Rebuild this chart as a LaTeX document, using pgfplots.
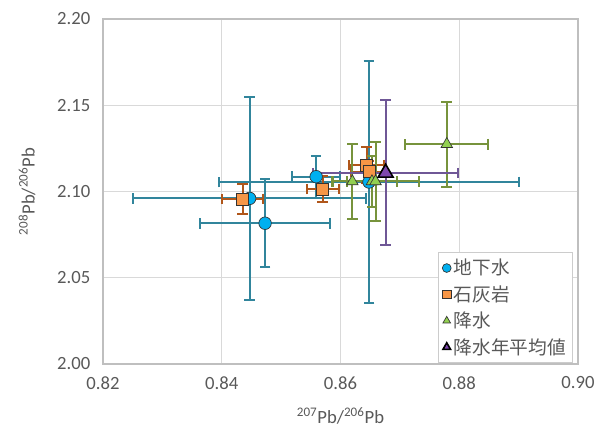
\documentclass[border=0pt]{standalone}
\usepackage{fontspec}
\setmainfont{Carlito}
\newfontfamily\cjk{Noto Sans CJK JP}
\usepackage{pgfplots}
\pgfplotsset{compat=1.18}
\usetikzlibrary{calc}

\definecolor{gwfill}{HTML}{00B0F0}
\definecolor{gwbar}{HTML}{31859C}
\definecolor{lsfill}{HTML}{F79646}
\definecolor{lsbar}{HTML}{B0561A}
\definecolor{prfill}{HTML}{92D050}
\definecolor{prbar}{HTML}{77933C}
\definecolor{pmfill}{HTML}{7E47AE}
\definecolor{pmbar}{HTML}{6F5796}
\definecolor{txt}{HTML}{595959}

% x  y  ex  ey
\pgfplotstableread{
x      y      ex     ey
0.8447 2.0960 0.0196 0.0589
0.8473 2.0816 0.0109 0.0255
0.8559 2.1086 0.0041 0.0122
0.8648 2.1055 0.0252 0.0700
}\groundwater
\pgfplotstableread{
x      y      ex     ey
0.8435 2.0957 0.0035 0.0089
0.8570 2.1014 0.0027 0.0077
0.8644 2.1154 0.0030 0.0103
0.8648 2.1115 0.0030 0.0060
}\limestone
\pgfplotstableread{
x      y      ex     ey
0.8620 2.1058 0.0033 0.0215
0.8653 2.1058 0.0042 0.0145
0.8659 2.1058 0.0073 0.0230
0.8779 2.1274 0.0070 0.0246
}\precip
\pgfplotstableread{
x      y      ex     ey
0.8676 2.1108 0.0122 0.0420
}\precipmean

\begin{document}
\begin{tikzpicture}
\begin{axis}[
    scale only axis,
    width=356.25pt, height=258.75pt,
    xmin=0.82, xmax=0.90, ymin=2.00, ymax=2.20,
    xtick={0.82,0.84,0.86,0.88,0.90},
    ytick={2.00,2.05,2.10,2.15,2.20},
    /pgf/number format/assume math mode=true,
    xticklabel style={/pgf/number format/.cd, fixed, fixed zerofill, precision=2, /tikz/.cd, yshift=-6pt},
    yticklabel style={/pgf/number format/.cd, fixed, fixed zerofill, precision=2, /tikz/.cd, xshift=-6pt},
    tick label style={font=\fontsize{14}{16}\selectfont, color=txt},
    major tick length=0pt,
    grid=major,
    major grid style={color=black!15, line width=0.8pt},
    axis line style={color=black!25, line width=0.8pt},
    every axis x label/.style={at={(axis description cs:0.5,-0.151)}, anchor=center,
        font=\fontsize{14}{16}\selectfont, color=txt},
    every axis y label/.style={at={(axis description cs:-0.16,0.5)}, rotate=90, anchor=center,
        font=\fontsize{14}{16}\selectfont, color=txt},
    xlabel={\textsuperscript{207}Pb/\textsuperscript{206}Pb},
    ylabel={\textsuperscript{208}Pb/\textsuperscript{206}Pb},
    legend style={at={(0.9895,0.3246)}, anchor=north east, draw=black!20, line width=0.8pt,
        font=\cjk\fontsize{14}{16}\selectfont, text=txt, row sep=2.5pt, inner sep=3pt},
    legend image post style={mark size=3.3pt},
    legend cell align=left,
]
\addplot[only marks, mark=*, mark size=4.7pt,
    mark options={fill=gwfill, draw=black!80, line width=0.5pt},
    error bars/.cd, x dir=both, y dir=both, x explicit, y explicit,
    error bar style={color=gwbar, line width=1.5pt},
    error mark options={rotate=90, mark size=4pt, line width=1.5pt, color=gwbar}]
    table[x=x, y=y, x error=ex, y error=ey]{\groundwater};
\addlegendentry{地下水}
\addplot[only marks, mark=square*, mark size=4.5pt,
    mark options={fill=lsfill, draw=black!80, line width=0.5pt},
    error bars/.cd, x dir=both, y dir=both, x explicit, y explicit,
    error bar style={color=lsbar, line width=1.5pt},
    error mark options={rotate=90, mark size=4pt, line width=1.5pt, color=lsbar}]
    table[x=x, y=y, x error=ex, y error=ey]{\limestone};
\addlegendentry{石灰岩}
\addplot[only marks, mark=triangle*, mark size=5pt,
    mark options={fill=prfill, draw=black!80, line width=0.5pt},
    error bars/.cd, x dir=both, y dir=both, x explicit, y explicit,
    error bar style={color=prbar, line width=1.5pt},
    error mark options={rotate=90, mark size=4pt, line width=1.5pt, color=prbar}]
    table[x=x, y=y, x error=ex, y error=ey]{\precip};
\addlegendentry{降水}
\addplot[only marks, mark=triangle*, mark size=6.5pt,
    mark options={fill=pmfill, draw=black, line width=1.2pt},
    error bars/.cd, x dir=both, y dir=both, x explicit, y explicit,
    error bar style={color=pmbar, line width=1.5pt},
    error mark options={rotate=90, mark size=4pt, line width=1.5pt, color=pmbar}]
    table[x=x, y=y, x error=ex, y error=ey]{\precipmean};
\addlegendentry{降水年平均値}
\end{axis}
\pgfresetboundingbox
\path[use as bounding box] ($(current axis.south west)+(-77.25pt,-50.25pt)$) rectangle ($(current axis.north east)+(22.5pt,14.25pt)$);
\end{tikzpicture}
\end{document}
